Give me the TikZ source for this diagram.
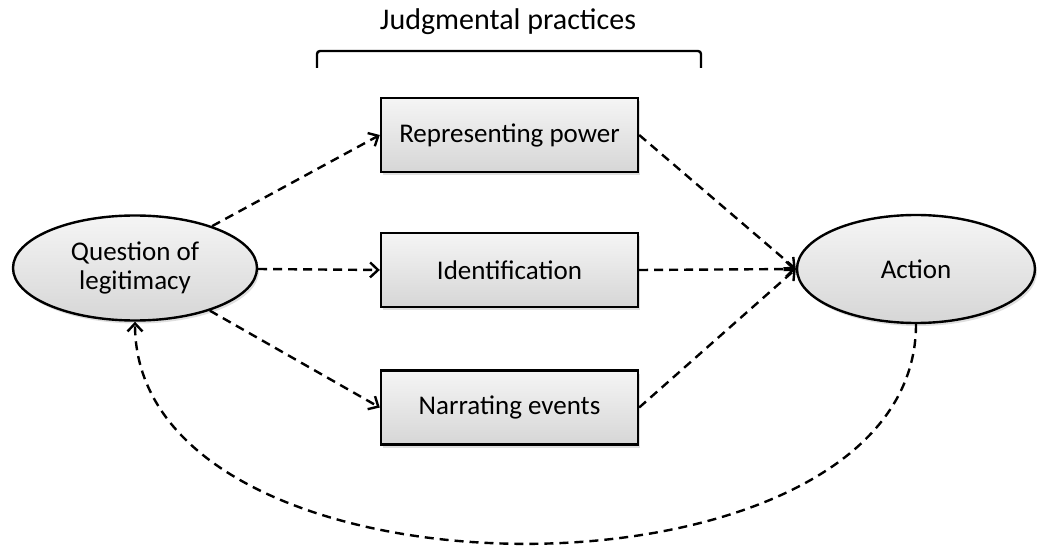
\documentclass[tikz,border=0pt]{standalone}
\usepackage{fontspec}
\setmainfont{Carlito}
\usetikzlibrary{arrows.meta,shapes.geometric,shadows}
\begin{document}
\begin{tikzpicture}[x=1pt,y=-1pt,
  pbox/.style={draw=black,line width=2.4pt,minimum width=257pt,minimum height=74pt,
    inner sep=0pt,top color=gray!8,bottom color=gray!32,
    drop shadow={shadow xshift=2pt,shadow yshift=-3pt,opacity=0.25},
    font=\fontsize{27}{30}\selectfont},
  pell/.style={ellipse,draw=black,line width=2.4pt,inner sep=0pt,align=center,
    top color=gray!8,bottom color=gray!32,
    drop shadow={shadow xshift=2pt,shadow yshift=-3pt,opacity=0.25},
    font=\fontsize{27}{29}\selectfont},
  flow/.style={line width=2.4pt,dash pattern=on 9pt off 6pt,
    -{Straight Barb[length=8pt,width=15pt,line width=2.4pt]}}
]
\useasboundingbox (0,0) rectangle (1037,548);
\node[font=\fontsize{30}{34}\selectfont] (title) at (508,22) {Judgmental practices};
\coordinate (bl) at (317,68);
\coordinate (br) at (701,68);
\draw[line width=2.4pt,rounded corners=3pt] (bl) -- (317,51) -- (701,51) -- (br);
\node[pbox] (rep) at (509.5,135) {Representing power};
\node[pbox] (ide) at (509.5,270) {Identification};
\node[pbox] (nar) at (509.5,407.5) {Narrating events};
\node[pell,minimum width=244pt,minimum height=105pt] (q) at (135,268) {Question of\\legitimacy};
\node[pell,minimum width=238pt,minimum height=108pt] (a) at (916,269) {Action};
\draw[flow] (q) -- (rep.west);
\draw[flow] (q) -- (ide.west);
\draw[flow] (q) -- (nar.west);
\draw[flow] (rep.east) -- (a.west);
\draw[flow] (ide.east) -- (a.west);
\draw[flow] (nar.east) -- (a.west);
\draw[flow] (a.south) .. controls (916,617) and (135,617) .. (q.south);
\end{tikzpicture}
\end{document}
